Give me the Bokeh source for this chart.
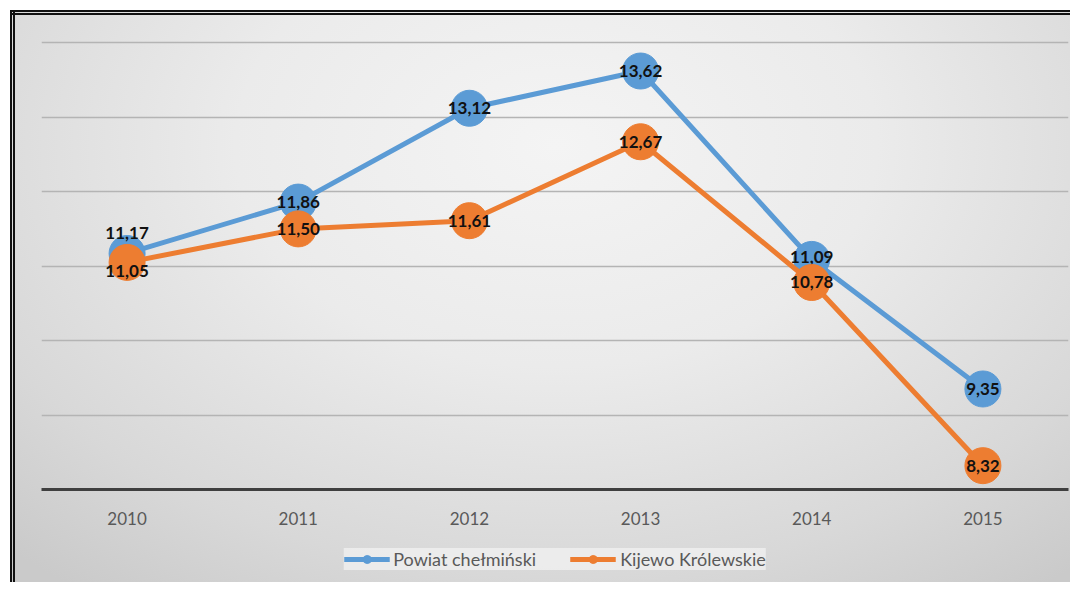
from bokeh.plotting import figure
from bokeh.models import ColumnDataSource, Legend, LegendItem, SingleIntervalTicker, Range1d, FactorRange
from bokeh.layouts import column
from bokeh.core.properties import value
from bokeh.embed import file_html
from bokeh.resources import INLINE

years = ["2010", "2011", "2012", "2013", "2014", "2015"]
powiat = [11.17, 11.86, 13.12, 13.62, 11.09, 9.35]
kijewo = [11.05, 11.50, 11.61, 12.67, 10.78, 8.32]
series_names = ["Powiat chełmiński", "Kijewo Królewskie"]
colors = ["#5b9bd5", "#ed7d31"]
label_offsets = [[-20, 0, 0, 0, -2, 0], [9, 0, 0, 0, 0, 0]]

FONT = "Lato"

# main chart
p = figure(width=1070, height=536, x_range=FactorRange(factors=years), y_range=Range1d(8, 14.03),
           output_backend="svg", toolbar_location=None, title=None,
           min_border_left=41, min_border_right=2, min_border_top=40, min_border_bottom=47)
p.background_fill_alpha = 0
p.border_fill_alpha = 0
p.outline_line_color = None

p.yaxis.visible = False
p.ygrid.ticker = SingleIntervalTicker(interval=1)
p.ygrid.grid_line_color = "#b4b4b4"
p.ygrid.grid_line_width = 1.5
p.xgrid.grid_line_color = None

p.xaxis.axis_line_color = "#3f3f3f"
p.xaxis.axis_line_width = 3
p.xaxis.major_tick_line_color = None
p.xaxis.minor_tick_line_color = None
p.xaxis.major_label_text_font = FONT
p.xaxis.major_label_text_font_size = "17px"
p.xaxis.major_label_text_color = "#595959"
p.xaxis.major_label_standoff = 16

for vals, col, offs in zip([powiat, kijewo], colors, label_offsets):
    src = ColumnDataSource(dict(x=years, y=vals, lab=[f"{v:.2f}".replace(".", ",") for v in vals], off=offs))
    p.line("x", "y", source=src, line_color=col, line_width=5)
    p.scatter("x", "y", source=src, size=36, fill_color=col, line_color=col)
    p.text("x", "y", text="lab", source=src, y_offset="off", text_align="center", text_baseline="middle",
           text_font=value(FONT), text_font_style="bold", text_font_size="17px", text_color="#111111")

# legend strip (same series drawn outside its visible range; only the legend shows)
lg = figure(width=1070, height=46, x_range=FactorRange(factors=years), y_range=Range1d(0, 1),
            output_backend="svg", toolbar_location=None, title=None,
            min_border_left=41, min_border_right=2, min_border_top=0, min_border_bottom=0)
lg.background_fill_alpha = 0
lg.border_fill_alpha = 0
lg.outline_line_color = None
lg.axis.visible = False
lg.grid.visible = False

items = []
for vals, name, col in zip([powiat, kijewo], series_names, colors):
    src = ColumnDataSource(dict(x=years, y=vals))
    ln = lg.line("x", "y", source=src, line_color=col, line_width=5)
    sc = lg.scatter("x", "y", source=src, size=36, fill_color=col, line_color=col)
    items.append(LegendItem(label=name, renderers=[ln, sc]))

legend = Legend(items=items, orientation="horizontal", location="center",
                background_fill_color="#efefef", background_fill_alpha=0.85, border_line_color=None,
                label_text_font=FONT, label_text_font_size="18px", label_text_color="#595959",
                glyph_width=46, glyph_height=20, spacing=34, padding=11, margin=0, label_standoff=4)
lg.add_layout(legend)

layout = column(p, lg, spacing=0)
solid_b = "linear-gradient(#111111,#111111)"
solid_w = "linear-gradient(#ffffff,#ffffff)"
layout.styles = {
    "background": ", ".join([
        f"{solid_b} 10px 10px / 100% 2px no-repeat",
        f"{solid_b} 10px 13px / 100% 2px no-repeat",
        f"{solid_b} 10px 10px / 2px 100% no-repeat",
        f"{solid_b} 13px 10px / 2px 100% no-repeat",
        f"{solid_w} 0 0 / 100% 10px no-repeat",
        f"{solid_w} 0 0 / 10px 100% no-repeat",
        "radial-gradient(ellipse 75% 95% at 52% 25%, #f4f4f4 0%, #ebebeb 40%, #d8d8d8 78%, #cacaca 100%)",
    ])
}

open("out.html", "w").write(file_html(layout, INLINE))
